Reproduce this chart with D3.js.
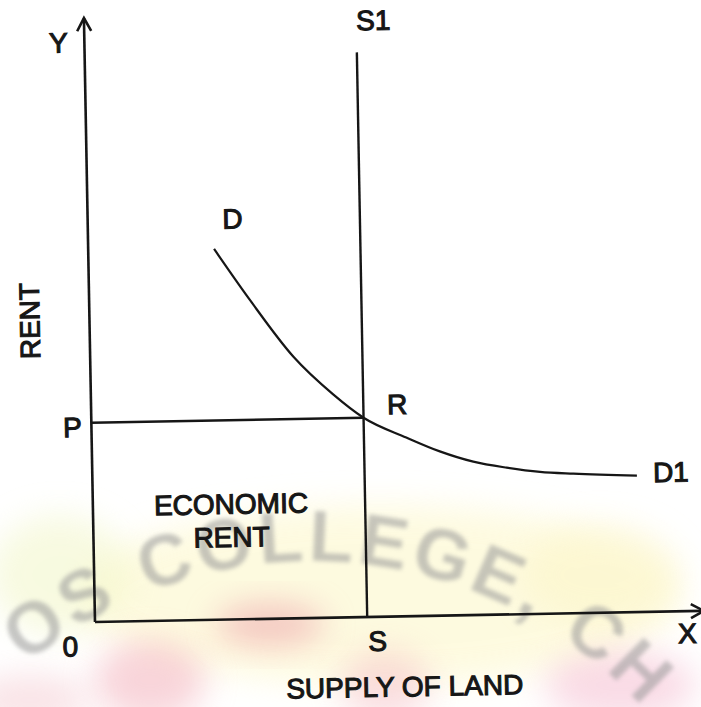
<!DOCTYPE html>
<html>
<head>
<meta charset="utf-8">
<script src="https://cdn.jsdelivr.net/npm/d3@7"></script>
<style>
  html, body { margin: 0; padding: 0; background: #fff; }
  svg { display: block; }
</style>
</head>
<body>
<svg id="chart" width="701" height="707"></svg>
<script>
// Demand curve for land: quantity of land vs rent
const demandQty  = [2.08, 2.66, 3.36, 4.0, 4.5, 5.2, 5.75, 6.3, 6.85, 7.4, 7.95, 9.0];
const demandRent = [6.14, 5.28, 4.33, 3.70, 3.30, 2.96, 2.72, 2.54, 2.43, 2.35, 2.31, 2.26];

// Fixed supply of land (vertical S-S1) and equilibrium rent P
const supplyQty = 4.5;
const supplyTop = 9.35;
const rentP = 3.3;

// Text labels
const axisNames = { y: "Y", x: "X", origin: "0", xTitle: "SUPPLY OF LAND", yTitle: "RENT" };
const curveNames = { demandStart: "D", demandEnd: "D1", supplyTop: "S1", supplyBase: "S", equilibrium: "R", price: "P" };
const areaLabel = ["ECONOMIC", "RENT"];
const watermark = "OS COLLEGE, CH";

const svg = d3.select("#chart");
const ink = "#161616";
const font = "'Liberation Sans', Arial, Helvetica, sans-serif";

// ---------- faint printed watermark in the lower part ----------
const defs = svg.append("defs");
defs.append("filter").attr("id", "soft").attr("x", "-50%").attr("y", "-50%").attr("width", "200%").attr("height", "200%")
  .append("feGaussianBlur").attr("stdDeviation", 16);
defs.append("filter").attr("id", "softText")
  .append("feGaussianBlur").attr("stdDeviation", 2.2);

const wm = svg.append("g").attr("class", "watermark");
const blobs = [
  { cx: 380, cy: 595, rx: 300, ry: 90,  fill: "#fdf7c6", o: 0.55 },
  { cx: 60,  cy: 575, rx: 70,  ry: 60,  fill: "#f2f6c8", o: 0.55 },
  { cx: 600, cy: 575, rx: 80,  ry: 50,  fill: "#fcf5c8", o: 0.55 },
  { cx: 150, cy: 680, rx: 55,  ry: 40,  fill: "#f2aab6", o: 0.5 },
  { cx: 270, cy: 625, rx: 55,  ry: 22,  fill: "#ec98a4", o: 0.5 },
  { cx: 385, cy: 685, rx: 45,  ry: 35,  fill: "#f4b8c2", o: 0.45 },
  { cx: 620, cy: 685, rx: 75,  ry: 35,  fill: "#f3b0c8", o: 0.45 },
  { cx: 30,  cy: 700, rx: 60,  ry: 25,  fill: "#f1bac2", o: 0.4 }
];
wm.selectAll("ellipse").data(blobs).join("ellipse")
  .attr("cx", d => d.cx).attr("cy", d => d.cy)
  .attr("rx", d => d.rx).attr("ry", d => d.ry)
  .attr("fill", d => d.fill).attr("opacity", d => d.o)
  .attr("filter", "url(#soft)");

const arcR = 447, arcCx = 312, arcCy = 1008;
defs.append("path").attr("id", "wmArc")
  .attr("d", `M${arcCx - arcR},${arcCy} A${arcR},${arcR} 0 0 1 ${arcCx + arcR},${arcCy}`);
wm.append("text")
  .attr("font-family", font).attr("font-weight", "bold").attr("font-size", 72)
  .attr("letter-spacing", 4.4).attr("word-spacing", 4)
  .attr("fill", "#999999").attr("opacity", 0.55).attr("filter", "url(#softText)")
  .append("textPath").attr("href", "#wmArc").attr("startOffset", 392)
  .text(watermark);

// ---------- chart ----------
const x = d3.scaleLinear().domain([0, 10]).range([95, 700]);
const y = d3.scaleLinear().domain([0, 10]).range([622, 18]);

// the whole figure sits at a slight tilt
const g = svg.append("g").attr("transform", `rotate(-1.05, ${x(0)}, ${y(0)})`);

// axes
g.append("line").attr("x1", x(0)).attr("y1", y(0)).attr("x2", x(0)).attr("y2", y(10))
  .attr("stroke", ink).attr("stroke-width", 2.6);
g.append("line").attr("x1", x(0)).attr("y1", y(0)).attr("x2", x(10) + 4).attr("y2", y(0))
  .attr("stroke", ink).attr("stroke-width", 2.6);
// arrowheads
g.append("path")
  .attr("d", `M${x(0) - 7},${y(10) + 13} L${x(0)},${y(10)} L${x(0) + 7},${y(10) + 13}`)
  .attr("fill", "none").attr("stroke", ink).attr("stroke-width", 2.6).attr("stroke-linejoin", "miter");
g.append("path")
  .attr("d", `M${x(10) - 9},${y(0) - 7} L${x(10) + 4},${y(0)} L${x(10) - 9},${y(0) + 7}`)
  .attr("fill", "none").attr("stroke", ink).attr("stroke-width", 2.6);

// supply line S-S1
g.append("line")
  .attr("x1", x(supplyQty)).attr("y1", y(0))
  .attr("x2", x(supplyQty)).attr("y2", y(supplyTop))
  .attr("stroke", ink).attr("stroke-width", 2.4);

// rent line P-R
g.append("line")
  .attr("x1", x(0)).attr("y1", y(rentP))
  .attr("x2", x(supplyQty)).attr("y2", y(rentP))
  .attr("stroke", ink).attr("stroke-width", 2.4);

// demand curve D-D1
const demand = demandQty.map((q, i) => [q, demandRent[i]]);
g.append("path")
  .datum(demand)
  .attr("d", d3.line().x(d => x(d[0])).y(d => y(d[1])).curve(d3.curveMonotoneX))
  .attr("fill", "none").attr("stroke", ink).attr("stroke-width", 2.2);

// labels
function label(txt, px, py, anchor = "middle") {
  return g.append("text")
    .attr("x", px).attr("y", py)
    .attr("text-anchor", anchor)
    .attr("font-family", font).attr("font-size", 28)
    .attr("fill", ink).attr("stroke", ink).attr("stroke-width", 1.1)
    .text(txt);
}
const first = demand[0], last = demand[demand.length - 1];
label(axisNames.y, x(0) - 26, y(10) + 34);
label(curveNames.supplyTop, x(supplyQty) + 17, y(supplyTop) - 22);
label(curveNames.demandStart, x(first[0]) + 19, y(first[1]) - 20);
label(curveNames.equilibrium, x(supplyQty) + 34, y(rentP) - 3);
label(curveNames.demandEnd, x(last[0]) + 34, y(last[1]) + 7);
label(curveNames.price, x(0) - 19, y(rentP) + 14);
label(axisNames.origin, x(0) - 25, y(0) + 34);
label(curveNames.supplyBase, x(supplyQty) + 10, y(0) + 34);
label(axisNames.x, x(10) - 13, y(0) + 32);

const boxCx = (x(0) + x(supplyQty)) / 2, boxCy = (y(0) + y(rentP)) / 2;
label(areaLabel[0], boxCx + 2, boxCy - 6);
label(areaLabel[1], boxCx + 2, boxCy + 27);

label(axisNames.xTitle, (x(0) + x(10)) / 2 + 6, y(0) + 80);

g.append("text")
  .attr("transform", `translate(${x(0) - 50}, ${(y(0) + y(10)) / 2}) rotate(-90)`)
  .attr("text-anchor", "middle")
  .attr("font-family", font).attr("font-size", 28)
  .attr("fill", ink).attr("stroke", ink).attr("stroke-width", 1.1)
  .text(axisNames.yTitle);
</script>
</body>
</html>
